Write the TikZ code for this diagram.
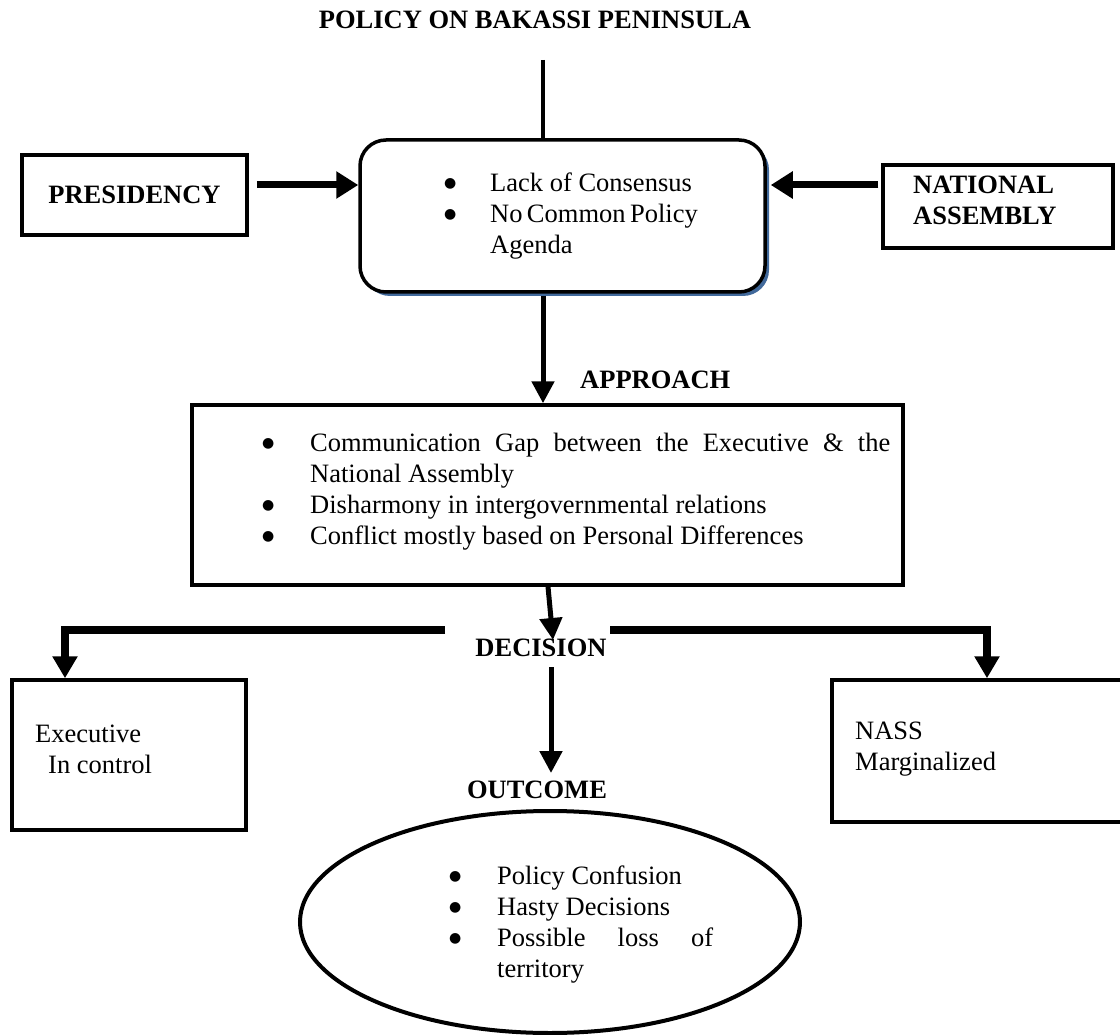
\documentclass[tikz,border=0pt]{standalone}
\usepackage{fontspec}
\setmainfont{Liberation Serif}
\newfontfamily\dejavu{DejaVu Sans}
\usetikzlibrary{arrows.meta,shapes.geometric}
\definecolor{shadowblue}{RGB}{65,105,155}
\newcommand\bl[1]{\makebox[#1][l]{\raisebox{4pt}{\dejavu\fontsize{14}{14}\selectfont ●}}}
\begin{document}
\begin{tikzpicture}[x=1pt,y=-1pt,
  every node/.style={font=\fontsize{26.5}{31}\selectfont, inner sep=0pt},
  boxthick/.style={draw, line width=3.5pt},
  fatarrow/.style={line width=7pt, -{Triangle[length=22pt,width=26pt]}},
  midarrow/.style={line width=5pt, -{Triangle[length=22pt,width=22pt]}},
  lbl/.style={font=\fontsize{26.5}{31}\selectfont\bfseries},
  body/.style={align=left, anchor=north west}]
\useasboundingbox (0,0) rectangle (1120,1035);

% title
\node[lbl] (title) at (535,20) {POLICY ON BAKASSI PENINSULA};

% rounded box with shadow
\fill[rounded corners=26pt, fill=shadowblue] (364,144) rectangle (769,296);
\node[boxthick, rounded corners=26pt, fill=white, minimum width=405pt, minimum height=152pt] (rb) at (562.5,216) {};
\node[body] (rbt) at (444,173) {\bl{46pt}Lack of Consensus\\
\bl{46pt}\makebox[204pt][s]{No Common Policy}\\
\hspace*{46pt}Agenda};

% side boxes
\node[boxthick, minimum width=225pt, minimum height=80pt, font=\fontsize{26.5}{31}\selectfont\bfseries] (pres) at (134.5,195) {PRESIDENCY};
\node[boxthick, minimum width=230pt, minimum height=83pt] (nass) at (998,206.5) {};
\node[lbl, align=left, anchor=north west] (nasst) at (913,176) {NATIONAL\\ASSEMBLY};

\coordinate (tl) at (543,60);
\draw[line width=4pt] (tl) -- (tl |- rb.north);
\draw[fatarrow] ([xshift=8pt]pres.east |- 0,185) -- (rb.west |- 0,185);
\draw[fatarrow] ([xshift=-3pt]nass.west |- 0,185) -- ([xshift=4pt]rb.east |- 0,185);

% approach
\node[boxthick, minimum width=711pt, minimum height=180pt] (b2) at (547.5,495) {};
\node[lbl, anchor=west] (appr) at (580,380) {APPROACH};
\draw[midarrow] (543,296) -- (b2.north -| 543,0);
\node[body] (b2t) at (262,433) {\bl{48pt}\makebox[580pt][s]{Communication Gap between the Executive \& the}\\
\hspace*{48pt}National Assembly\\
\bl{48pt}Disharmony in intergovernmental relations\\
\bl{48pt}Conflict mostly based on Personal Differences};

% decision
\node[lbl] (dec) at (541,648) {DECISION};
\draw[midarrow] (b2.south -| 548,0) -- (553,640);
\node[boxthick, minimum width=234pt, minimum height=150pt] (exec) at (129,755) {};
\node[body] (exect) at (35,725) {Executive\\\hspace*{13pt}In control};
\node[boxthick, minimum width=300pt, minimum height=142pt] (nb) at (982,751) {};
\node[body] (nbt) at (855,722) {NASS\\Marginalized};
\coordinate (dl) at (445,630);
\coordinate (dr) at (610,630);
\draw[line width=8pt, -{Triangle[length=22pt,width=24pt]}] (dl) -| (exec.north -| 65,0);
\draw[line width=8pt, -{Triangle[length=22pt,width=24pt]}] (dr) -| (nb.north -| 987,0);

% outcome
\node[lbl] (out) at (537,790) {OUTCOME};
\draw[midarrow] (551,667) -- (551,773);
\node[ellipse, draw, line width=4pt, minimum width=500pt, minimum height=222pt] (ell) at (550,922) {};
\node[body] (ellt) at (449,866) {\bl{48pt}Policy Confusion\\
\bl{48pt}Hasty Decisions\\
\bl{48pt}\makebox[216pt][s]{Possible loss of}\\
\hspace*{48pt}territory};
\end{tikzpicture}
\end{document}
